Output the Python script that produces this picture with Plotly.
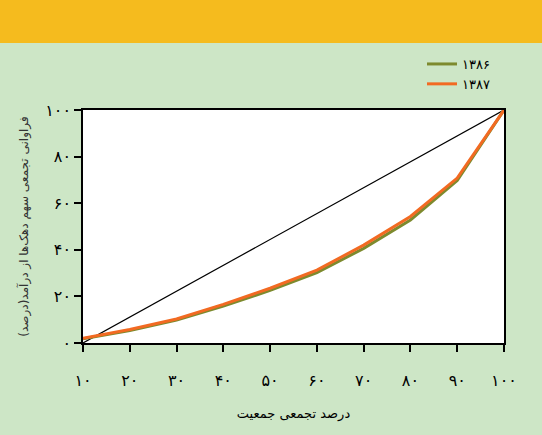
import plotly.graph_objects as go

# Data
x_pct = [10, 20, 30, 40, 50, 60, 70, 80, 90, 100]
x_tick_text = ["۱۰", "۲۰", "۳۰", "۴۰", "۵۰", "۶۰", "۷۰", "۸۰", "۹۰", "۱۰۰"]
y_tick_vals = [0, 20, 40, 60, 80, 100]
y_tick_text = ["۰", "۲۰", "۴۰", "۶۰", "۸۰", "۱۰۰"]
share_1386 = [1.8, 5.4, 9.9, 15.8, 22.6, 30.2, 40.6, 52.8, 69.8, 100]
share_1387 = [2.0, 5.8, 10.3, 16.6, 23.5, 31.3, 42.0, 54.3, 70.8, 100]
equality_x = [10, 100]
equality_y = [0, 100]
name_1386 = "۱۳۸۶"
name_1387 = "۱۳۸۷"
x_title = "درصد تجمعی جمعیت"
y_title = "فراوانی تجمعی سهم دهک‌ها از درآمد(درصد)"

GREEN_BG = "#cde6c6"
YELLOW = "#f5bb1e"
OLIVE = "#7d8a2e"
ORANGE = "#f26a22"
FONT = "DejaVu Sans"

fig = go.Figure()
fig.add_trace(go.Scatter(x=equality_x, y=equality_y, mode="lines",
                         line=dict(color="black", width=1.2),
                         showlegend=False, hoverinfo="skip"))
fig.add_trace(go.Scatter(x=x_pct, y=share_1386, mode="lines", name=name_1386,
                         line=dict(color=OLIVE, width=3)))
fig.add_trace(go.Scatter(x=x_pct, y=share_1387, mode="lines", name=name_1387,
                         line=dict(color=ORANGE, width=3)))

W, H = 542, 435
L, R, T, B = 83, 38, 110, 92
ph = H - T - B
pw = W - L - R

fig.add_shape(type="rect", xref="paper", yref="paper", layer="below",
              x0=-0.5, x1=1.5, y0=1 + (T - 43) / ph, y1=1 + T / ph + 0.05,
              fillcolor=YELLOW, line=dict(width=0))

fig.update_layout(
    width=W, height=H,
    margin=dict(l=L, r=R, t=T, b=B),
    paper_bgcolor=GREEN_BG, plot_bgcolor="white",
    font=dict(family=FONT, color="black"),
    legend=dict(x=(422 - L) / pw, y=1 + (T - 49) / ph,
                xanchor="left", yanchor="top", bgcolor="rgba(0,0,0,0)",
                font=dict(size=13), tracegroupgap=0, itemwidth=30),
    xaxis=dict(range=[10, 100], tickvals=x_pct, ticktext=x_tick_text,
               showline=True, linecolor="black", linewidth=1.5, mirror=True,
               ticks="outside", ticklen=7, tickcolor="black", tickwidth=1.5,
               showgrid=False, zeroline=False, ticklabelstandoff=15,
               tickfont=dict(size=16),
               title=dict(text=x_title, font=dict(size=13), standoff=20)),
    yaxis=dict(range=[0, 100], tickvals=y_tick_vals, ticktext=y_tick_text,
               showline=True, linecolor="black", linewidth=1.5, mirror=True,
               ticks="outside", ticklen=7, tickcolor="black", tickwidth=1.5,
               showgrid=False, zeroline=False, tickfont=dict(size=16),
               title=dict(text=y_title, font=dict(size=12, color="#333333"),
                          standoff=14)),
)

fig.write_html("out.html", config={"displayModeBar": False},
               post_script="document.body.style.margin='0';document.body.style.overflow='hidden';")
